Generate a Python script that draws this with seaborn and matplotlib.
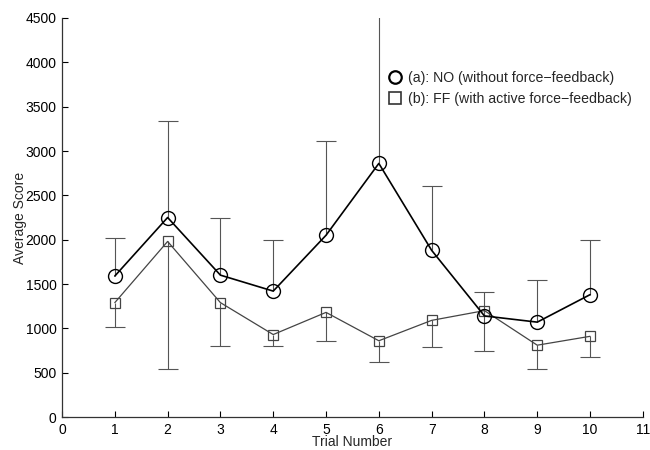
import matplotlib
matplotlib.use("Agg")
import matplotlib.pyplot as plt
import seaborn as sns
import numpy as np
import pandas as pd
from matplotlib.lines import Line2D

trials = [1, 2, 3, 4, 5, 6, 7, 8, 9, 10]
no_mean = [1590, 2250, 1600, 1420, 2050, 2860, 1880, 1140, 1070, 1380]
no_upper = [2020, 3340, 2250, 2000, 3110, 5200, 2600, 1410, 1550, 2000]
ff_mean = [1290, 1980, 1290, 930, 1180, 860, 1090, 1200, 810, 910]
ff_lower = [1020, 540, 800, 800, 860, 620, 790, 740, 540, 680]
label_no = "(a): NO (without force\u2212feedback)"
label_ff = "(b): FF (with active force\u2212feedback)"

sns.set_theme(style="ticks")
plt.rcParams['font.family'] = ['Liberation Sans', 'DejaVu Sans']

fig = plt.figure(figsize=(6.5, 4.5), dpi=100)
ax = fig.add_axes([0.0954, 0.0733, 0.8936, 0.8867])

df_no = pd.DataFrame({"trial": trials, "score": no_mean})
df_ff = pd.DataFrame({"trial": trials, "score": ff_mean})

no_up = np.array(no_upper) - np.array(no_mean)
ff_lo = np.array(ff_mean) - np.array(ff_lower)
zeros = np.zeros(len(trials))

err_kw = dict(fmt='none', ecolor='#555555', elinewidth=0.8, capsize=0, zorder=1)
ax.errorbar(trials, no_mean, yerr=[zeros, no_up], **err_kw)
ax.errorbar(trials, ff_mean, yerr=[ff_lo, zeros], **err_kw)
cap_kw = dict(linestyle='none', marker='_', markersize=15, markeredgewidth=0.8,
              color='#555555', zorder=1)
ax.plot(trials, no_upper, **cap_kw)
ax.plot(trials, ff_lower, **cap_kw)

sns.lineplot(data=df_ff, x="trial", y="score", ax=ax, color='#444444', linewidth=0.9,
             marker='s', markersize=7, markerfacecolor='none', markeredgecolor='#444444',
             markeredgewidth=0.9, zorder=2)
sns.lineplot(data=df_no, x="trial", y="score", ax=ax, color='black', linewidth=1.2,
             marker='o', markersize=10, markerfacecolor='none', markeredgecolor='black',
             markeredgewidth=1.0, zorder=3)

ax.set_xlim(0, 11)
ax.set_ylim(0, 4500)
ax.set_xticks(range(0, 12))
ax.set_yticks(range(0, 4501, 500))
ax.tick_params(direction='in', length=4, labelsize=10, colors='black', width=0.8)
ax.tick_params(axis='x', pad=4)
ax.tick_params(axis='y', pad=4)
for s in ['top', 'right']:
    ax.spines[s].set_visible(False)
for s in ['left', 'bottom']:
    ax.spines[s].set_color('#333333')
    ax.spines[s].set_linewidth(0.9)
ax.set_xlabel("Trial Number", fontsize=10, labelpad=-1)
ax.set_ylabel("Average Score", fontsize=10, labelpad=-1)

handles = [Line2D([], [], linestyle='none', marker='o', markersize=9, markerfacecolor='none',
                  markeredgecolor='black', markeredgewidth=1.6),
           Line2D([], [], linestyle='none', marker='s', markersize=8, markerfacecolor='none',
                  markeredgecolor='#333333', markeredgewidth=1.2)]
ax.legend(handles, [label_no, label_ff], loc='upper left', bbox_to_anchor=(0.54, 0.9),
          frameon=False, fontsize=10.2, handlelength=1.0, handletextpad=0.4, labelspacing=0.55)

fig.savefig("out.png", dpi=100)
